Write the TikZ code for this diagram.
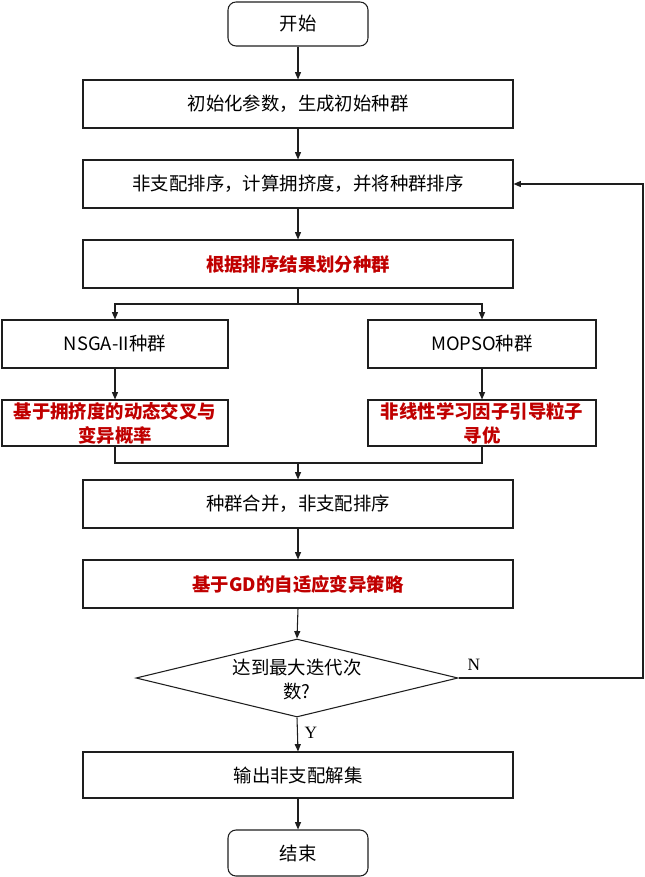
\documentclass[tikz,border=0pt]{standalone}
\usepackage{fontspec}
\setmainfont{Noto Sans CJK SC}
\newfontfamily\serifN{Liberation Serif}
\usetikzlibrary{arrows.meta,shapes.geometric}
\definecolor{redtxt}{RGB}{192,0,0}
\definecolor{edge}{RGB}{30,30,30}
\begin{document}
\begin{tikzpicture}[x=0.75pt,y=-0.75pt,
  every node/.style={font=\fontsize{13.8pt}{18pt}\selectfont, inner sep=0pt, align=center},
  box/.style={draw=edge, line width=0.8pt, rectangle, minimum width=322.5pt, minimum height=36pt},
  sidebox/.style={draw=edge, line width=0.8pt, rectangle, minimum width=170pt, minimum height=36pt},
  term/.style={draw=edge, line width=0.8pt, rectangle, rounded corners=6pt, minimum width=105pt, minimum height=33pt},
  redt/.style={text=redtxt, font=\fontsize{13.8pt}{18pt}\selectfont\bfseries},
  conn/.style={draw=edge, line width=0.8pt},
  arr/.style={conn, -{Triangle[length=5.5pt,width=4.5pt]}},
  lab/.style={font=\fontsize{13pt}{14pt}\selectfont\serifN}
]
\useasboundingbox (0,0) rectangle (645,877);
\node[term] (start) at (298,24) {开始};
\node[box] (b1) at (298,104) {初始化参数，生成初始种群};
\node[box] (b2) at (298,184) {非支配排序，计算拥挤度，并将种群排序};
\node[box,redt] (b3) at (298,264) {根据排序结果划分种群};
\node[sidebox,minimum width=169.5pt] (nsga) at (115,344) {NSGA-II种群};
\node[sidebox,minimum width=171pt] (mopso) at (482,344) {MOPSO种群};
\node[sidebox,redt,minimum width=169.5pt,minimum height=34.5pt] (l2) at (115,423) {基于拥挤度的动态交叉与\\变异概率};
\node[sidebox,redt,minimum width=171pt,minimum height=34.5pt] (r2) at (482,423) {非线性学习因子引导粒子\\寻优};
\node[box] (merge) at (298,504) {种群合并，非支配排序};
\node[box,redt] (gd) at (298,584) {基于GD的自适应变异策略};
\node[draw=edge, line width=0.8pt, diamond, minimum width=241.5pt, minimum height=58.5pt] (dia) at (297,678) {};
\node (diat) at (297,680) {达到最大迭代次\\数?};
\node[box,minimum height=34.5pt] (out) at (298,775) {输出非支配解集};
\node[term,minimum height=34.5pt] (end) at (298,853) {结束};

\coordinate (split) at (298,304);
\coordinate (joinl) at (115,463);
\coordinate (joinr) at (482,463);
\coordinate (join) at (298,463);
\coordinate (loopa) at (643,678);
\coordinate (loopb) at (643,184);

\draw[arr] (start) -- (b1);
\draw[arr] (b1) -- (b2);
\draw[arr] (b2) -- (b3);
\draw[conn] (b3.south) -- (split);
\draw[arr] (split) -| (nsga.north);
\draw[arr] (split) -| (mopso.north);
\draw[arr] (nsga) -- (l2);
\draw[arr] (mopso) -- (r2);
\draw[conn] (l2.south) -- (joinl) -- (joinr) -- (r2.south);
\draw[arr] (join) -- (merge.north);
\draw[arr] (merge) -- (gd);
\draw[arr] (gd.south) -- (dia.north);
\draw[arr] (dia.south) -- node[lab, right=5pt, pos=0.45] (ylab) {Y} (out.north);
\draw[arr] (out) -- (end);
\draw[arr] (dia.east) -- (loopa) -- (loopb) -- (b2.east);
\node[lab] (nlab) at (474,665) {N};
\end{tikzpicture}
\end{document}
